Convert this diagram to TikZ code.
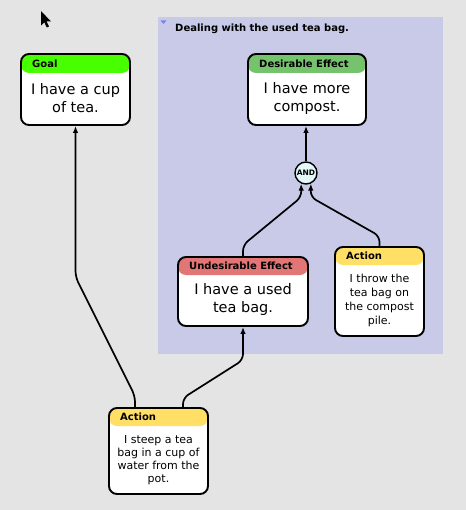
\documentclass[tikz,border=0pt]{standalone}
\usepackage{fontspec}
\setmainfont{DejaVu Sans}
\usetikzlibrary{arrows.meta}
\definecolor{bg}{HTML}{E4E4E4}
\definecolor{grp}{HTML}{C8CAE8}
\definecolor{goalc}{HTML}{48FF00}
\definecolor{desc}{HTML}{76C36E}
\definecolor{undc}{HTML}{E27575}
\definecolor{actc}{HTML}{FFDF66}
\definecolor{andc}{HTML}{E4F8F8}
\definecolor{iconc}{HTML}{7C86E8}
\tikzset{
  tbox/.style={draw=black, line width=1.9pt, rounded corners=8pt, fill=white, inner sep=0pt},
  hdr/.style={anchor=west, inner sep=0pt, font=\bfseries\fontsize{10}{12}\selectfont},
  bigtxt/.style={align=center, inner sep=0pt, font=\fontsize{14.5}{18}\selectfont},
  smalltxt/.style={align=center, inner sep=0pt, font=\fontsize{11}{14}\selectfont},
  conn/.style={draw=black, line width=1.7pt, rounded corners=6pt, -{Latex[length=7pt,width=5.5pt]}},
  andnode/.style={circle, draw=black, line width=1.4pt, fill=andc, minimum size=22pt, inner sep=0pt, font=\bfseries\fontsize{7.5}{8}\selectfont},
}
\newcommand{\hdrbox}[8]{% name, x1, y1, x2, y2, yheader, colour, header
  \node[tbox, minimum width={(#4-#2)*1pt}, minimum height={(#5-#3)*1pt},
    path picture={\fill[#7] (path picture bounding box.north west) rectangle ([yshift={-(#6-#3)*1pt}]path picture bounding box.north east);}]
    (#1) at ({(#2+#4)/2},{(#3+#5)/2}) {};
  \node[hdr] (#1h) at ({#2+11},{(#3+#6)/2}) {#8};
}
\begin{document}
\begin{tikzpicture}[x=1pt,y=-1pt]
\fill[bg] (0,0) rectangle (466,510);
\useasboundingbox (0,0) rectangle (466,510);
% group
\fill[grp] (158,17) rectangle (443,354);
\fill[iconc] (160.5,20.5) -- (166.5,20.5) -- (163.5,24) -- cycle;
\node[anchor=west, inner sep=0pt, font=\bfseries\fontsize{10}{12}\selectfont] (title) at (175,29) {Dealing with the used tea bag.};
% cursor
\fill[black] (41,11) -- (41,25.5) -- (44.3,22.3) -- (46.8,27.5) -- (49,26.5) -- (46.6,21.5) -- (51,21.5) -- cycle;
% nodes
\hdrbox{goal}{21}{54}{130}{125}{73}{goalc}{Goal}
\node[bigtxt] (goalt) at (75.5,98.5) {I have a cup\\of tea.};
\hdrbox{de}{248}{54}{366}{125}{73}{desc}{Desirable Effect}
\node[bigtxt] (det) at (307,98.5) {I have more\\compost.};
\hdrbox{ue}{178}{257}{308}{326}{275}{undc}{Undesirable Effect}
\node[bigtxt] (uet) at (243,299.5) {I have a used\\tea bag.};
\hdrbox{act}{335}{247}{424}{336}{265}{actc}{Action}
\node[smalltxt] (actt) at (379.5,300.5) {I throw the\\tea bag on\\the compost\\pile.};
\hdrbox{steep}{109}{408}{208}{494}{426}{actc}{Action}
\node[smalltxt, font=\fontsize{11}{13}\selectfont] (steept) at (158.5,460) {I steep a tea\\bag in a cup of\\water from the\\pot.};
\node[andnode] (and) at (306,173) {AND};
% connectors
\draw[conn] ([xshift=-23.5pt]steep.north) -- ++(0,-11) -- (75.5,277) -- (goal.south);
\draw[conn] ([xshift=24.5pt]steep.north) -- ++(0,-9) -- (243,360) -- (ue.south);
\draw[conn] (ue.north) -- ++(0,-11) -- (301.4,197) -- (and.-115);
\draw[conn] (act.north) -- ++(0,-10) -- (310.6,197) -- (and.-65);
\draw[conn] (and.north) -- (and.north |- de.south);
\end{tikzpicture}
\end{document}
